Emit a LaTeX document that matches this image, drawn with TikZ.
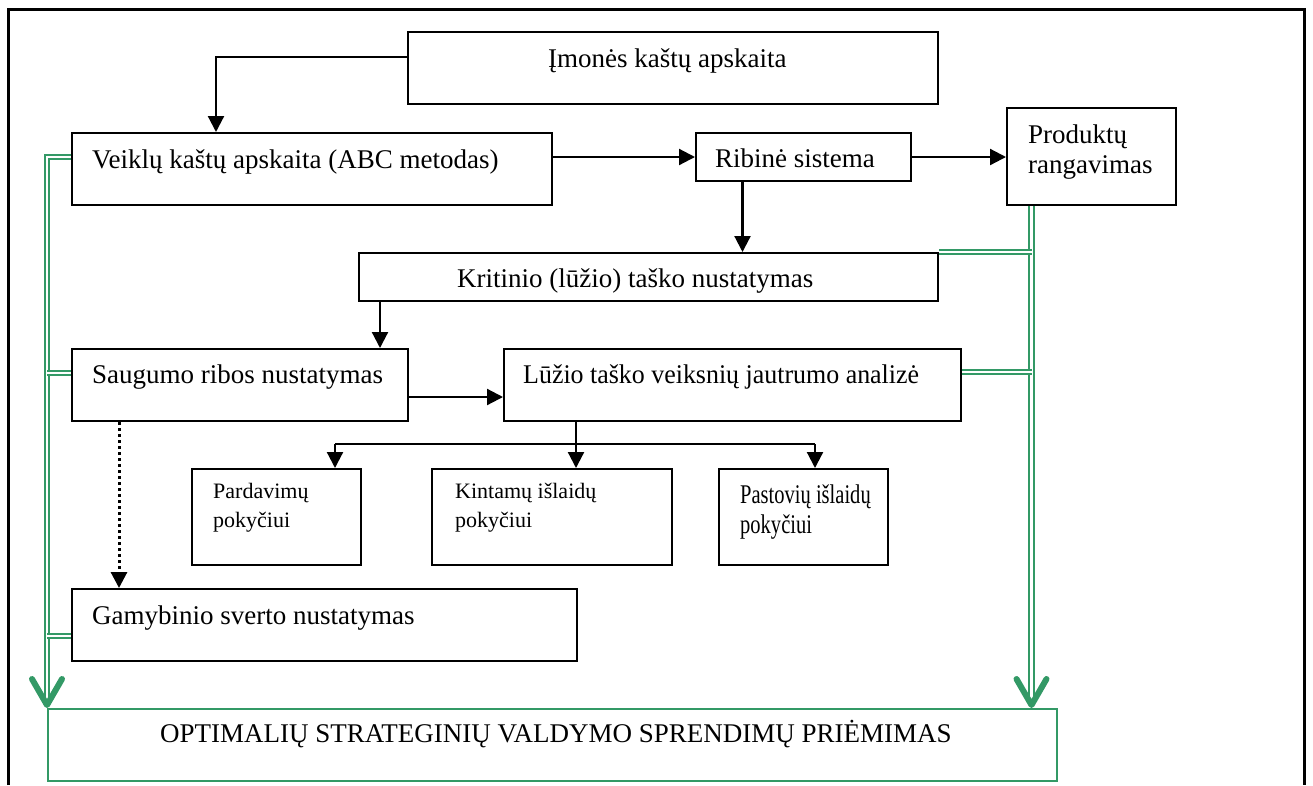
\documentclass[tikz,border=0pt]{standalone}
\usepackage{fontspec}
\usepackage{graphicx}
\setmainfont{Liberation Serif}
\usetikzlibrary{arrows.meta,calc}
\definecolor{gr}{RGB}{51,153,102}
\pgfdeclarelayer{background}
\pgfsetlayers{background,main}
\begin{document}
\begin{tikzpicture}[x=1pt,y=-1pt,
 box/.style={draw=black, line width=2pt, inner sep=0pt, anchor=north west, fill=white},
 gbox/.style={draw=gr, line width=2.2pt, inner sep=0pt, anchor=north west},
 txt/.style={inner sep=0pt, anchor=base west, font=\fontsize{27}{30}\selectfont},
 stxt/.style={inner sep=0pt, anchor=base west, font=\fontsize{22}{28}\selectfont},
 arr/.style={draw=black, line width=2.2pt, -{Triangle[length=16pt,width=16pt]}},
 ln/.style={draw=black, line width=2.2pt},
 dotarr/.style={draw=black, line width=3pt, dash pattern=on 3pt off 3pt, -{Triangle[length=16pt,width=16pt]}},
 dbl/.style={draw=gr, line width=2.1pt, double=white, double distance=2.6pt},
 gtip/.style={draw=gr, line width=6pt, line cap=round, line join=round},
 frame/.style={draw=black, line width=3pt},
]
\useasboundingbox (0,0) rectangle (1313,785);
\draw[frame] (8,785) -- (8,9) -- (1304,9) -- (1304,785);

% boxes
\node[box, minimum width=530, minimum height=72] (imo) at (407,31) {};
\node[box, minimum width=480, minimum height=72] (veik) at (71,132) {};
\node[box, minimum width=215, minimum height=48] (rib) at (695,132) {};
\node[box, minimum width=169, minimum height=97] (prod) at (1006,107) {};
\node[box, minimum width=579, minimum height=48] (krit) at (358,252) {};
\node[box, minimum width=336, minimum height=72] (saug) at (71,348) {};
\node[box, minimum width=457, minimum height=72] (luz) at (503,348) {};
\node[box, minimum width=169, minimum height=96] (pard) at (191,468) {};
\node[box, minimum width=240, minimum height=96] (kint) at (431,468) {};
\node[box, minimum width=169, minimum height=96] (past) at (718,468) {};
\node[box, minimum width=505, minimum height=72] (gam) at (71,588) {};
\node[gbox, minimum width=1009, minimum height=72] (opt) at (47,708) {};

% texts
\node[txt] (imoT) at (548,67) {Įmonės kaštų apskaita};
\node[txt] (veikT) at (92,168) {Veiklų kaštų apskaita (ABC metodas)};
\node[txt] (ribT) at (715,167) {Ribinė sistema};
\node[txt] (prodT1) at (1028,143) {Produktų};
\node[txt] (prodT2) at (1028,173) {rangavimas};
\node[txt] (kritT) at (457,287) {Kritinio (lūžio) taško nustatymas};
\node[txt] (saugT) at (92,383) {Saugumo ribos nustatymas};
\node[txt] (luzT) at (523,383) {\scalebox{0.96}[1]{Lūžio taško veiksnių jautrumo analizė}};
\node[stxt] (pardT1) at (213,498) {Pardavimų};
\node[stxt] (pardT2) at (213,527) {pokyčiui};
\node[stxt] (kintT1) at (455,498) {Kintamų išlaidų};
\node[stxt] (kintT2) at (455,527) {pokyčiui};
\node[txt] (pastT1) at (740,503) {\scalebox{0.76}[1]{Pastovių išlaidų}};
\node[txt] (pastT2) at (740,533) {\scalebox{0.76}[1]{pokyčiui}};
\node[txt] (gamT) at (92,624) {Gamybinio sverto nustatymas};
\node[txt] (optT) at (160,742) {OPTIMALIŲ STRATEGINIŲ VALDYMO SPRENDIMŲ PRIĖMIMAS};

% black connectors
\draw[arr] ([yshift=11]imo.west) -| ([xshift=-96]veik.north);
\draw[arr] (veik.east |- rib.west) -- (rib.west);
\draw[arr] (rib.east) -- (rib.east -| prod.west);
\draw[arr] ([xshift=-61]rib.south) -- ([xshift=-61]rib.south |- krit.north);
\draw[arr] ([xshift=22]krit.south west) -- ([xshift=22]krit.south west |- saug.north);
\draw[arr] ([yshift=-12]saug.east) -- ([yshift=-12]saug.east -| luz.west);
\draw[arr] ([xshift=24]kint.north |- luz.south) -- ([xshift=24]kint.north);
\coordinate (bl) at (335,444);
\coordinate (br) at (815,444);
\draw[ln] (bl) -- (br);
\draw[arr] (bl) -- (bl |- pard.north);
\draw[arr] (br) -- (br |- past.north);
\draw[dotarr] ([xshift=48]saug.south west) -- ([xshift=48]saug.south west |- gam.north);

% green connectors
\coordinate (ltop) at ([yshift=12]veik.west -| opt.north west);
\coordinate (lbot) at ($(opt.north west)+(0,-8)$);
\coordinate (rtop) at ([xshift=-60]prod.south);
\coordinate (rbot) at ($(rtop |- opt.north)+(0,-8)$);
\begin{pgfonlayer}{background}
\draw[dbl] ([yshift=12]veik.west) -- (ltop) -- (lbot);
\draw[dbl] ([yshift=12]saug.west) -- ([yshift=12]saug.west -| ltop);
\draw[dbl] ([yshift=-11]gam.west) -- ([yshift=-11]gam.west -| ltop);
\draw[dbl] (rtop) -- (rbot);
\draw[dbl] (krit.north east) -- (krit.north east -| rtop);
\draw[dbl] ([yshift=13]luz.east) -- ([yshift=13]luz.east -| rtop);
\end{pgfonlayer}
\draw[gtip] ($(opt.north west)+(-15,-29)$) -- ($(opt.north west)+(0,-3)$) -- ($(opt.north west)+(15,-29)$);
\draw[gtip] ($(rtop |- opt.north)+(-15,-29)$) -- ($(rtop |- opt.north)+(0,-3)$) -- ($(rtop |- opt.north)+(15,-29)$);
\end{tikzpicture}
\end{document}
